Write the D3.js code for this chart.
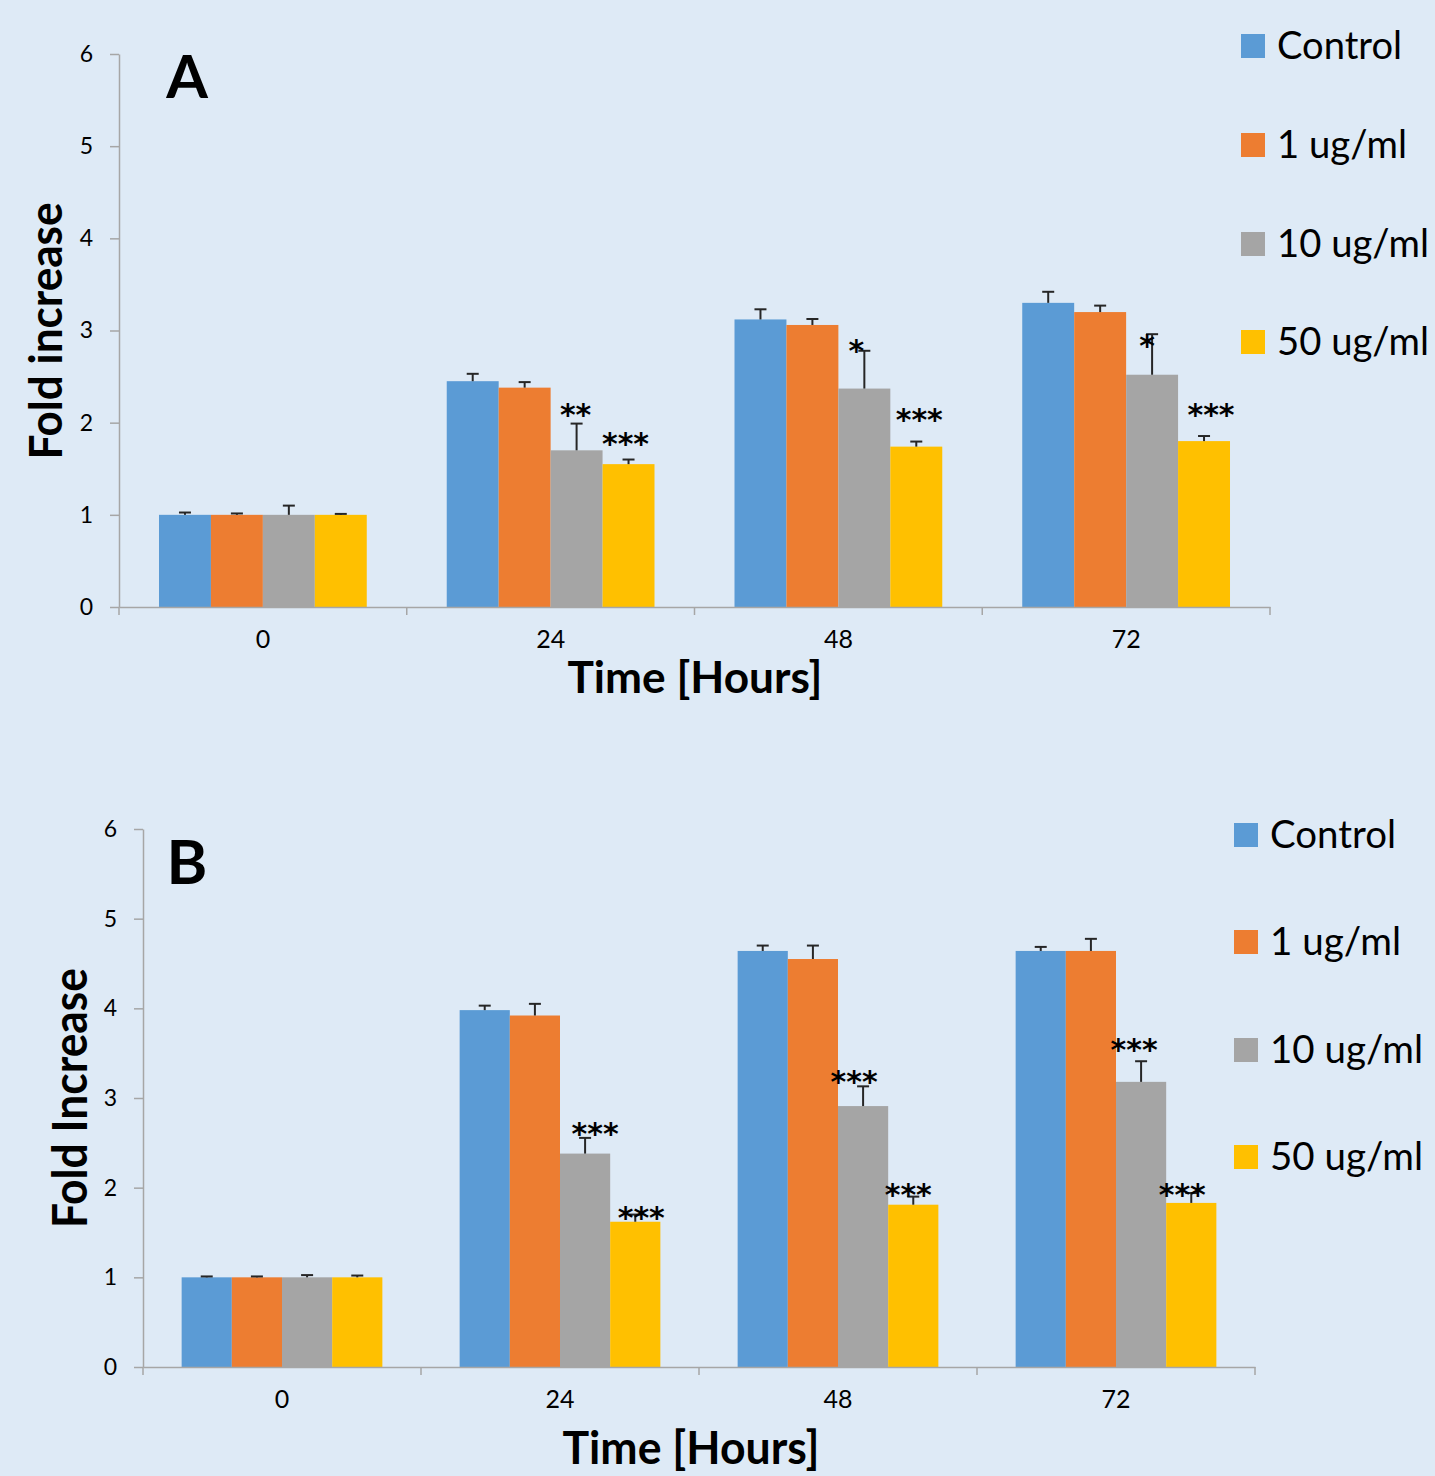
<!DOCTYPE html>
<html>
<head>
<meta charset="utf-8">
<script src="https://cdn.jsdelivr.net/npm/d3@7"></script>
<style>
  html, body { margin: 0; padding: 0; background: #deeaf6; }
  svg { display: block; }
  text { font-family: Lato, "Open Sans", "DejaVu Sans", sans-serif; fill: #000; }
</style>
</head>
<body>
<svg id="chart" width="1435" height="1476"></svg>
<script>
// ---------------- DATA ----------------
const categories = ["0", "24", "48", "72"];
const seriesNames = ["Control", "1 ug/ml", "10 ug/ml", "50 ug/ml"];
const yTicks = [0, 1, 2, 3, 4, 5, 6];

// Panel A values (fold increase)
const aControl = [1.00, 2.45, 3.12, 3.30];
const a1ug     = [1.00, 2.38, 3.06, 3.20];
const a10ug    = [1.00, 1.70, 2.37, 2.52];
const a50ug    = [1.00, 1.55, 1.74, 1.80];
// Panel A error bars (upper)
const aControlErr = [0.025, 0.08, 0.11, 0.12];
const a1ugErr     = [0.015, 0.06, 0.065, 0.07];
const a10ugErr    = [0.10, 0.29, 0.41, 0.44];
const a50ugErr    = [0.01, 0.05, 0.055, 0.055];
// Panel A significance marks (10 ug/ml and 50 ug/ml) and their value level
const a10ugSig = ["", "**", "*", "*"];
const a50ugSig = ["", "***", "***", "***"];
const a10ugSigAt = [null, 2.17, 2.86, 2.92];
const a50ugSigAt = [null, 1.86, 2.12, 2.17];

// Panel B values
const bControl = [1.00, 3.98, 4.64, 4.64];
const b1ug     = [1.00, 3.92, 4.55, 4.64];
const b10ug    = [1.00, 2.38, 2.91, 3.18];
const b50ug    = [1.00, 1.62, 1.81, 1.83];
const bControlErr = [0.01, 0.05, 0.06, 0.045];
const b1ugErr     = [0.01, 0.13, 0.15, 0.135];
const b10ugErr    = [0.025, 0.175, 0.22, 0.23];
const b50ugErr    = [0.02, 0.08, 0.09, 0.11];
const b10ugSig = ["", "***", "***", "***"];
const b50ugSig = ["", "***", "***", "***"];
const b10ugSigAt = [null, 2.69, 3.27, 3.62];
const b50ugSigAt = [null, 1.75, 2.01, 2.01];

// ---------------- STYLE / LAYOUT ----------------
const colors = ["#5b9bd5", "#ed7d31", "#a5a5a5", "#ffc000"];
const axisColor = "#a6a6a6";
const errColor = "#262626";

const panels = [
  {
    letter: "A", yTitle: "Fold increase",
    series: [aControl, a1ug, a10ug, a50ug],
    errs: [aControlErr, a1ugErr, a10ugErr, a50ugErr],
    sig: [null, null, a10ugSig, a50ugSig],
    sigAt: [null, null, a10ugSigAt, a50ugSigAt],
    sigDx: [null, null, [0, -1, -8, -5], [0, -3, 3, 7]],
    left: 119, right: 1270, top: 54, bottom: 607,
    tickFont: 23, catFont: 25,
    letterPos: [187, 98], letterSize: 60,
    xTitlePos: [695, 693], xTitleLen: 255, xTitleSize: 44,
    yTitlePos: [62, 331], yTitleLen: 257, yTitleSize: 46,
    legendX: 1241, legendY: [46, 145, 244, 342], legendSize: 38,
    legendLens: [125, 130, 152, 152]
  },
  {
    letter: "B", yTitle: "Fold Increase",
    series: [bControl, b1ug, b10ug, b50ug],
    errs: [bControlErr, b1ugErr, b10ugErr, b50ugErr],
    sig: [null, null, b10ugSig, b50ugSig],
    sigAt: [null, null, b10ugSigAt, b50ugSigAt],
    sigDx: [null, null, [0, 10, -9, -7], [0, 6, -5, -9]],
    left: 143, right: 1255, top: 829, bottom: 1367,
    tickFont: 23, catFont: 25,
    letterPos: [187, 884], letterSize: 62,
    xTitlePos: [691, 1464], xTitleLen: 257, xTitleSize: 46,
    yTitlePos: [87, 1098], yTitleLen: 260, yTitleSize: 47,
    legendX: 1234, legendY: [835, 942, 1050, 1157], legendSize: 38,
    legendLens: [126, 131, 153, 153]
  }
];

const svg = d3.select("#chart");
svg.append("rect").attr("width", 1435).attr("height", 1476).attr("fill", "#deeaf6");

panels.forEach(p => {
  const g = svg.append("g");
  const y = d3.scaleLinear().domain([0, 6]).range([p.bottom, p.top]);
  const x0 = d3.scaleBand().domain(categories).range([p.left, p.right]).padding(0);
  const x1 = d3.scaleBand().domain(seriesNames).range([0, x0.bandwidth()])
    .paddingInner(0).paddingOuter(0.77);

  // Y axis
  const yAxis = d3.axisLeft(y).tickValues(yTicks).tickSize(9).tickSizeOuter(0).tickPadding(17)
    .tickFormat(d3.format("d"));
  const ya = g.append("g").attr("transform", `translate(${p.left},0)`).call(yAxis);
  ya.select(".domain").attr("stroke", axisColor).attr("stroke-width", 1.5);
  ya.selectAll(".tick line").attr("stroke", axisColor).attr("stroke-width", 1.5);
  ya.selectAll(".tick text").style("font-size", p.tickFont + "px").attr("fill", "#000")
    .style("font-family", "Lato, sans-serif");

  // Bars
  p.series.forEach((vals, si) => {
    const sname = seriesNames[si];
    g.append("g").selectAll("rect").data(vals).join("rect")
      .attr("x", (d, i) => x0(categories[i]) + x1(sname))
      .attr("y", d => y(d))
      .attr("width", x1.bandwidth())
      .attr("height", d => y(0) - y(d))
      .attr("fill", colors[si]);
  });

  // X axis (domain + boundary ticks)
  const xa = g.append("g").attr("transform", `translate(0,${p.bottom})`)
    .call(d3.axisBottom(x0).tickSize(0).tickPadding(23));
  xa.select(".domain").attr("stroke", axisColor).attr("stroke-width", 1.5);
  xa.selectAll(".tick text").style("font-size", p.catFont + "px").attr("fill", "#000")
    .style("font-family", "Lato, sans-serif");
  const bounds = categories.map(c => x0(c)).concat([x0.range()[1]]);
  xa.selectAll("line.bound").data(bounds).join("line").attr("class", "bound")
    .attr("x1", d => d).attr("x2", d => d).attr("y1", 0).attr("y2", 8)
    .attr("stroke", axisColor).attr("stroke-width", 1.5);

  // Error bars
  p.series.forEach((vals, si) => {
    const sname = seriesNames[si];
    const eg = g.append("g").attr("stroke", errColor).attr("stroke-width", 2);
    vals.forEach((v, i) => {
      const cx = x0(categories[i]) + x1(sname) + x1.bandwidth() / 2;
      const top = y(v + p.errs[si][i]);
      eg.append("line").attr("x1", cx).attr("x2", cx).attr("y1", y(v)).attr("y2", top);
      eg.append("line").attr("x1", cx - 6).attr("x2", cx + 6).attr("y1", top).attr("y2", top);
    });
  });

  // Significance stars
  p.series.forEach((vals, si) => {
    if (!p.sig[si]) return;
    const sname = seriesNames[si];
    p.sig[si].forEach((s, i) => {
      if (!s) return;
      const cx = x0(categories[i]) + x1(sname) + x1.bandwidth() / 2 + p.sigDx[si][i];
      g.append("text").text(s)
        .attr("x", cx).attr("y", y(p.sigAt[si][i]) + 18)
        .attr("text-anchor", "middle")
        .style("font-family", "'DejaVu Sans', sans-serif")
        .style("font-weight", "bold")
        .style("font-size", "30px");
    });
  });

  // Panel letter
  g.append("text").text(p.letter)
    .attr("x", p.letterPos[0]).attr("y", p.letterPos[1])
    .attr("text-anchor", "middle")
    .style("font-weight", "bold").style("font-size", p.letterSize + "px");

  // X title
  g.append("text").text("Time [Hours]")
    .attr("x", p.xTitlePos[0] - p.xTitleLen / 2).attr("y", p.xTitlePos[1])
    .attr("textLength", p.xTitleLen).attr("lengthAdjust", "spacingAndGlyphs")
    .style("font-weight", "bold").style("font-size", p.xTitleSize + "px");

  // Y title
  g.append("text").text(p.yTitle)
    .attr("transform", `translate(${p.yTitlePos[0]},${p.yTitlePos[1] + p.yTitleLen / 2}) rotate(-90)`)
    .attr("x", 0).attr("y", 0)
    .attr("textLength", p.yTitleLen).attr("lengthAdjust", "spacingAndGlyphs")
    .style("font-weight", "bold").style("font-size", p.yTitleSize + "px");

  // Legend
  seriesNames.forEach((name, si) => {
    const cy = p.legendY[si];
    g.append("rect").attr("x", p.legendX).attr("y", cy - 12).attr("width", 24).attr("height", 24)
      .attr("fill", colors[si]);
    g.append("text").text(name)
      .attr("x", p.legendX + 36).attr("y", cy + 13)
      .attr("textLength", p.legendLens[si]).attr("lengthAdjust", "spacingAndGlyphs")
      .style("font-size", p.legendSize + "px");
  });
});
</script>
</body>
</html>
